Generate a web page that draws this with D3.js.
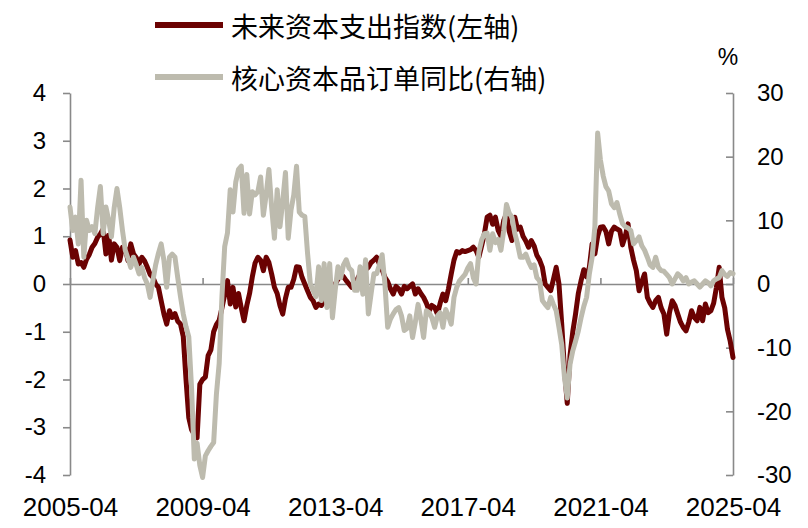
<!DOCTYPE html>
<html>
<head>
<meta charset="utf-8">
<script src="https://cdn.jsdelivr.net/npm/d3@7"></script>
<style>
html, body { margin: 0; padding: 0; background: #fff; }
</style>
</head>
<body>
<div id="chart"></div>
<script>
// monthly data, 2005-04 .. 2025-04
var startMonth = "2005-04";
var xTickLabels = ["2005-04", "2009-04", "2013-04", "2017-04", "2021-04", "2025-04"];
var leftTicks = [-4, -3, -2, -1, 0, 1, 2, 3, 4];
var rightTicks = [-30, -20, -10, 0, 10, 20, 30];
var seriesNames = ["未来资本支出指数(左轴)", "核心资本品订单同比(右轴)"];

// 未来资本支出指数 (left axis)
var capexIndex = [
    0.92, 0.56, 0.70, 0.42, 0.45, 0.35, 0.52, 0.62, 0.77, 0.85, 0.98, 1.05,
    1.15, 0.63, 1.02, 0.50, 0.84, 0.77, 0.49, 0.77, 0.75, 0.49, 0.84, 0.63,
    0.55, 0.42, 0.56, 0.48, 0.35, 0.20, 0.14, 0.00, -0.07, -0.35, -0.63, -0.84,
    -0.56, -0.70, -0.62, -0.78, -0.84, -1.10, -2.00, -2.80, -3.05, -3.15, -3.22, -2.10,
    -2.00, -1.95, -1.50, -1.38, -1.00, -0.85, -0.76, -0.50, -0.22, 0.07, -0.42, -0.07,
    -0.48, -0.20, -0.50, -0.77, -0.45, -0.20, 0.15, 0.44, 0.56, 0.50, 0.28, 0.56,
    0.45, 0.21, -0.07, -0.20, -0.45, -0.63, -0.30, -0.07, -0.07, 0.10, 0.36, 0.35,
    0.14, 0.00, -0.14, -0.28, -0.35, -0.49, -0.42, -0.45, -0.35, -0.20, -0.14, -0.21,
    0.00, 0.10, 0.21, 0.15, 0.07, 0.00, -0.07, 0.05, 0.10, 0.21, 0.20, 0.30,
    0.35, 0.45, 0.50, 0.56, 0.42, 0.30, 0.14, 0.05, -0.10, -0.21, -0.05, -0.10,
    -0.21, -0.05, -0.10, -0.05, 0.00, -0.21, -0.10, -0.20, -0.28, -0.40, -0.56, -0.45,
    -0.49, -0.63, -0.40, -0.21, -0.35, -0.10, 0.21, 0.50, 0.68, 0.65, 0.70, 0.68,
    0.70, 0.72, 0.77, 0.70, 0.56, 0.80, 1.05, 1.40, 1.44, 1.25, 1.40, 1.12,
    1.00, 1.33, 1.47, 1.10, 0.91, 1.40, 1.15, 1.19, 1.00, 0.90, 0.77, 0.91,
    0.80, 0.60, 0.50, 0.35, 0.00, -0.07, -0.14, 0.10, 0.35, 0.00, -0.84, -1.80,
    -2.50, -1.50, -1.00, -0.63, -0.20, 0.07, 0.30, 0.15, 0.35, 0.84, 0.63, 1.00,
    1.19, 1.20, 1.10, 0.84, 1.10, 1.19, 1.15, 1.12, 0.82, 1.00, 1.26, 0.77,
    0.50, 0.28, -0.14, 0.05, 0.21, -0.28, -0.40, -0.49, -0.35, -0.28, -0.50, -0.63,
    -1.05, -0.60, -0.35, -0.45, -0.63, -0.80, -0.91, -0.98, -0.80, -0.56, -0.70, -0.77,
    -0.49, -0.77, -0.42, -0.60, -0.56, -0.40, -0.07, 0.35, -0.28, -0.50, -0.95, -1.20,
    -1.54
];

// 核心资本品订单同比, % (right axis)
var coreOrdersYoy = [
    12.1, 8.4, 10.5, 6.3, 16.3, 4.2, 10.0, 8.4, 9.0, 7.9, 12.0, 15.3,
    7.9, 12.1, 10.0, 7.4, 12.0, 15.0, 12.0, 8.4, 5.3, 4.0, 2.6, 4.2,
    3.0, 1.6, 2.6, 1.0, 0.0, -2.1, 0.5, 3.0, 4.8, 6.3, 3.7, -0.5,
    4.2, 4.7, 4.2, 1.0, -2.0, -4.7, -6.7, -8.3, -16.3, -27.5, -25.0, -28.5,
    -30.4, -27.0, -26.2, -25.5, -24.9, -17.3, -12.5, -2.0, 5.9, 8.0, 14.8, 11.3,
    16.0, 18.0, 18.5, 11.1, 17.2, 11.0, 14.5, 14.0, 14.5, 16.8, 10.8, 14.0,
    18.0, 12.0, 7.2, 14.8, 9.0, 13.0, 17.5, 7.2, 11.6, 14.0, 18.5, 11.3,
    10.8, 10.6, 4.8, 0.0, -1.0, -2.0, 2.7, -2.6, 3.2, -3.7, 3.2, -5.3,
    -1.0, 2.7, 1.0, 3.0, 3.8, 2.5, 2.1, -1.0, -1.0, 2.7, -1.6, 3.8,
    -4.7, -1.5, 1.6, 1.6, 3.0, 4.6, 0.0, -6.8, -5.5, -4.7, -4.0, -3.7,
    -5.0, -7.3, -7.0, -5.0, -8.4, -6.0, -3.2, -5.5, -8.4, -4.2, -4.5, -5.3,
    -6.8, -5.0, -4.5, -6.8, -4.0, -5.0, -6.3, -2.1, -0.5, 0.5, 1.0, 1.5,
    2.5, 3.2, 1.0, 0.0, 5.0, 6.9, 7.9, 8.0, 5.3, 7.9, 6.5, 7.0,
    5.3, 8.4, 12.5, 11.1, 10.5, 8.0, 6.3, 4.2, 4.2, 4.7, 3.5, 2.6,
    3.0, 1.0, 0.5, -2.6, -3.2, -3.7, -2.1, -3.2, -4.2, -6.8, -9.5, -14.7,
    -17.9, -12.6, -10.5, -9.0, -7.4, -5.3, -3.5, -2.1, 1.6, 4.2, 9.0, 23.7,
    19.5, 17.0, 15.3, 14.6, 12.6, 12.0, 12.8, 11.0, 9.5, 9.0, 8.8, 8.4,
    6.3, 6.8, 7.4, 6.0, 5.3, 4.2, 3.0, 2.6, 4.2, 2.6, 2.1, 2.0,
    1.5, 1.0, 0.0, 0.8, 1.6, 1.2, 0.5, 1.0, 0.0, 0.3, 0.5, 0.0,
    -0.5, 0.0, 0.5, 0.2, -0.3, 0.5, 0.8, 1.0, 2.1, 1.5, 1.2, 1.8,
    1.6
];

var dualLineChart = function () {
    return {
        init: function (initData) {
            var me = this;
            me._width = initData.width;
            me._height = initData.height;
            me._svg = d3.select("#" + initData.domEle).append("svg")
                .attr("width", me._width)
                .attr("height", me._height)
                .style("display", "block");
        },
        setData: function (myData) {
            var me = this;
            var svg = me._svg;
            var left = 70, right = 733, top = 93, bottom = 475;
            var axisColor = "#898989";
            var numFont = "'Liberation Sans', Arial, sans-serif";
            var cjkFont = "'Noto Sans CJK SC', sans-serif";
            var colors = ["#6b0202", "#bdbbae"];
            // plain hyphen for negatives, like the source
            var plain = function (d) { return String(d); };

            var parseMonth = d3.timeParse("%Y-%m");
            var fmtMonth = d3.timeFormat("%Y-%m");
            var start = parseMonth(myData.start);
            var months = myData.series[0].map(function (d, i) {
                return fmtMonth(d3.timeMonth.offset(start, i));
            });

            var x = d3.scalePoint().domain(months).range([left, right]);
            var yLeft = d3.scaleLinear().domain([-4, 4]).range([bottom, top]);
            var yRight = d3.scaleLinear().domain([-30, 30]).range([bottom, top]);

            // zero line with small upward ticks
            svg.append("g")
                .attr("transform", "translate(0," + yLeft(0) + ")")
                .call(d3.axisBottom(x).tickValues(myData.xTicks).tickSize(-6).tickSizeOuter(0).tickFormat(""))
                .call(function (g) {
                    g.selectAll("path, line").attr("stroke", axisColor).attr("stroke-width", 1.6);
                });

            // left axis
            svg.append("g")
                .attr("transform", "translate(" + left + ",0)")
                .call(d3.axisLeft(yLeft).tickValues(myData.leftTicks).tickFormat(plain)
                    .tickSize(7).tickSizeOuter(0).tickPadding(17))
                .call(function (g) {
                    g.selectAll("path, line").attr("stroke", axisColor).attr("stroke-width", 1.6);
                    g.selectAll("text").attr("fill", "#000").style("font-size", "24px").style("font-family", numFont);
                });

            // right axis, ticks point inward
            svg.append("g")
                .attr("transform", "translate(" + right + ",0)")
                .call(d3.axisRight(yRight).tickValues(myData.rightTicks).tickFormat(plain)
                    .tickSizeInner(-7).tickSizeOuter(0).tickPadding(24))
                .call(function (g) {
                    g.selectAll("path, line").attr("stroke", axisColor).attr("stroke-width", 1.6);
                    g.selectAll("text").attr("fill", "#000").style("font-size", "24px").style("font-family", numFont);
                });

            // date labels below the plot
            svg.append("g")
                .attr("transform", "translate(0," + bottom + ")")
                .call(d3.axisBottom(x).tickValues(myData.xTicks).tickSize(0).tickPadding(23))
                .call(function (g) {
                    g.select(".domain").remove();
                    g.selectAll("text").attr("fill", "#000").style("font-size", "26px").style("font-family", numFont);
                });

            svg.append("text")
                .attr("x", 728)
                .attr("y", 57)
                .attr("text-anchor", "middle")
                .attr("dominant-baseline", "central")
                .style("font-size", "23px")
                .style("font-family", numFont)
                .text("%");

            var scales = [yLeft, yRight];
            myData.series.forEach(function (values, k) {
                var line = d3.line()
                    .x(function (d, i) { return x(months[i]); })
                    .y(function (d) { return scales[k](d); });
                svg.append("path")
                    .datum(values)
                    .attr("fill", "none")
                    .attr("stroke", colors[k])
                    .attr("stroke-width", 5)
                    .attr("stroke-linejoin", "round")
                    .attr("stroke-linecap", "round")
                    .attr("d", line);
            });

            // legend
            var legend = svg.append("g").selectAll("g")
                .data(myData.names)
                .enter().append("g")
                .attr("transform", function (d, i) {
                    return "translate(155," + (25 + i * 52) + ")";
                });
            legend.append("line")
                .attr("x1", 0).attr("x2", 68)
                .attr("stroke", function (d, i) { return colors[i]; })
                .attr("stroke-width", 6);
            legend.append("text")
                .attr("x", 76)
                .attr("dominant-baseline", "central")
                .style("font-size", "27px")
                .style("font-family", cjkFont)
                .text(function (d) { return d; });
        }
    };
};

var chart = new dualLineChart();
chart.init({ domEle: "chart", width: 808, height: 528 });
chart.setData({
    start: startMonth,
    xTicks: xTickLabels,
    leftTicks: leftTicks,
    rightTicks: rightTicks,
    names: seriesNames,
    series: [capexIndex, coreOrdersYoy]
});
</script>
</body>
</html>
